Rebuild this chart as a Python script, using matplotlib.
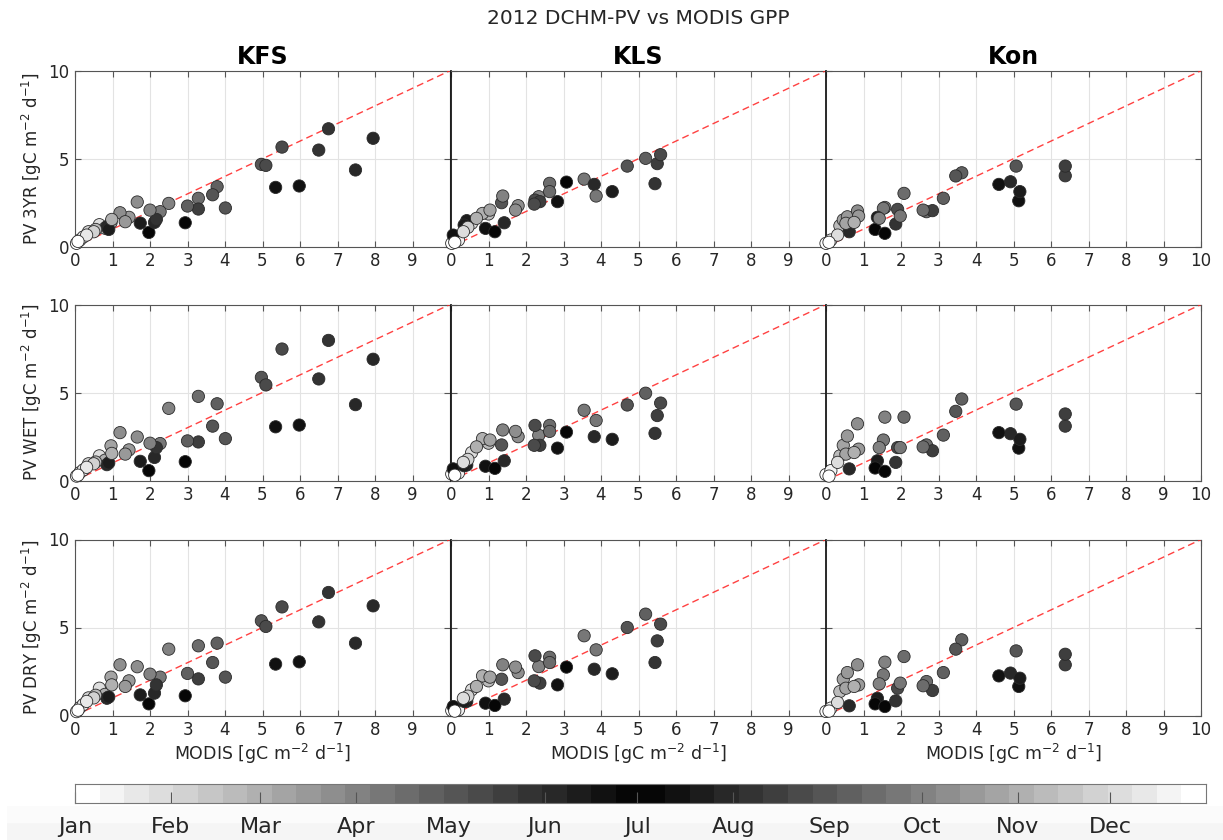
import numpy as np
import matplotlib
matplotlib.use('Agg')
import matplotlib.pyplot as plt
from matplotlib.colors import ListedColormap

# ---------------- data ----------------
sites = ['KFS', 'KLS', 'Kon']
row_names = ['PV 3YR', 'PV WET', 'PV DRY']
months = ['Jan', 'Feb', 'Mar', 'Apr', 'May', 'Jun', 'Jul', 'Aug', 'Sep', 'Oct', 'Nov', 'Dec']
month_start_doy = [0, 31, 60, 91, 121, 152, 182, 213, 244, 274, 305, 335]
n_periods = 46
year_days = 366

# KFS
kfs_period = [18, 19, 16, 27, 15, 29, 26, 24, 21, 14, 30, 13, 28, 31, 30, 22, 11, 12, 34, 26, 27,
              23, 20, 10, 35, 9, 36, 8, 38, 19, 3, 39, 4, 43, 1, 0, 7, 41, 2, 45, 25]
kfs_modis = [6.76, 7.95, 5.52, 6.50, 4.97, 5.09, 7.48, 5.35, 5.98, 3.79, 3.67, 3.29, 3.29, 3.00, 4.01,
             2.94, 2.50, 2.27, 2.00, 2.12, 2.17, 1.97, 1.74, 1.66, 1.20, 1.44, 1.34, 0.96, 0.98, 0.85,
             0.65, 0.55, 0.36, 0.31, 0.13, 0.04, 0.80, 0.50, 0.22, 0.08, 0.90]
kfs_3yr = [6.70, 6.16, 5.66, 5.49, 4.68, 4.62, 4.36, 3.37, 3.45, 3.41, 2.95, 2.75, 2.14, 2.31, 2.20,
           1.36, 2.46, 1.99, 2.08, 1.38, 1.55, 0.81, 1.34, 2.54, 1.93, 1.67, 1.42, 1.36, 1.55, 1.14,
           1.25, 0.98, 0.85, 0.66, 0.38, 0.19, 1.05, 0.85, 0.55, 0.30, 0.98]
kfs_wet = [7.96, 6.89, 7.47, 5.77, 5.86, 5.43, 4.31, 3.05, 3.15, 4.36, 3.09, 4.78, 2.19, 2.25, 2.38,
           1.07, 4.10, 2.10, 2.12, 1.31, 1.87, 0.56, 1.09, 2.47, 2.72, 1.74, 1.50, 1.97, 1.54, 0.90,
           1.40, 1.05, 0.95, 0.75, 0.45, 0.25, 1.15, 0.95, 0.60, 0.30, 1.00]
kfs_dry = [6.99, 6.23, 6.17, 5.32, 5.38, 5.06, 4.11, 2.92, 3.05, 4.11, 3.01, 3.96, 2.08, 2.39, 2.18,
           1.12, 3.77, 2.18, 2.35, 1.27, 1.74, 0.66, 1.17, 2.77, 2.88, 1.97, 1.65, 2.18, 1.74, 0.98,
           1.55, 1.15, 1.00, 0.80, 0.45, 0.22, 1.20, 1.00, 0.62, 0.30, 1.05]

# KLS
kls_period = [29, 14, 28, 15, 27, 12, 26, 33, 25, 22, 24, 13, 32, 11, 16, 29, 28, 10, 35, 34, 30,
              19, 23, 21, 6, 37, 7, 38, 3, 20, 42, 24, 1, 0, 25, 45, 41]
kls_modis = [5.59, 5.19, 5.50, 4.70, 5.44, 3.55, 3.82, 3.87, 4.30, 3.08, 2.84, 2.63, 2.63, 2.34, 2.24,
             2.22, 2.37, 1.79, 1.72, 1.38, 1.35, 1.42, 1.17, 0.92, 1.00, 1.04, 0.84, 0.68, 0.55, 0.42,
             0.33, 0.06, 0.20, 0.02, 0.35, 0.10, 0.45]
kls_3yr = [5.23, 5.02, 4.72, 4.58, 3.58, 3.84, 3.54, 2.88, 3.13, 3.67, 2.56, 3.60, 3.13, 2.84, 2.65,
           2.42, 2.56, 2.33, 2.08, 2.88, 2.50, 1.36, 0.85, 1.04, 1.86, 2.08, 1.89, 1.61, 1.33, 1.48,
           0.85, 0.66, 0.38, 0.19, 1.23, 0.25, 1.10]
kls_wet = [4.40, 4.96, 3.69, 4.29, 2.68, 3.99, 2.49, 3.41, 2.34, 2.75, 1.84, 3.13, 2.79, 2.57, 3.13,
           2.00, 2.00, 2.49, 2.79, 2.87, 2.02, 1.12, 0.69, 0.81, 2.12, 2.30, 2.38, 1.91, 1.59, 0.88,
           1.03, 0.66, 0.43, 0.37, 0.84, 0.30, 1.20]
kls_dry = [5.19, 5.76, 4.24, 5.00, 3.01, 4.53, 2.63, 3.73, 2.37, 2.75, 1.74, 3.31, 3.01, 2.78, 3.39,
           1.97, 1.84, 2.44, 2.75, 2.88, 2.06, 0.93, 0.57, 0.70, 1.97, 2.18, 2.25, 1.65, 1.46, 0.80,
           0.98, 0.51, 0.32, 0.28, 0.80, 0.25, 1.10]

# Kon
kon_period = [28, 17, 15, 21, 19, 25, 24, 14, 30, 31, 28, 32, 13, 13, 29, 33, 27, 11, 12, 34, 20,
              22, 23, 10, 36, 38, 9, 8, 6, 26, 42, 1, 0, 37, 45]
kon_modis = [6.38, 6.38, 5.07, 4.61, 4.92, 5.17, 5.14, 3.62, 3.46, 3.13, 2.84, 2.59, 2.68, 2.08, 1.91,
             1.98, 1.86, 1.57, 1.53, 1.42, 1.37, 1.31, 1.57, 0.84, 0.87, 0.75, 0.57, 0.46, 0.37, 0.62,
             0.31, 0.13, 0.00, 0.53, 0.08]
kon_3yr = [4.58, 4.03, 4.58, 3.54, 3.69, 3.13, 2.61, 4.20, 4.02, 2.75, 2.05, 2.08, 1.99, 3.03, 2.12,
           1.74, 1.29, 2.23, 2.18, 1.61, 1.67, 0.98, 0.76, 2.03, 1.74, 1.38, 1.70, 1.52, 1.19, 0.85,
           0.66, 0.38, 0.19, 1.33, 0.25]
kon_wet = [3.78, 3.09, 4.34, 2.72, 2.66, 2.34, 1.84, 4.63, 3.93, 2.58, 1.69, 1.91, 2.02, 3.60, 1.87,
           1.87, 1.03, 3.60, 2.30, 1.87, 1.12, 0.71, 0.52, 3.22, 1.78, 1.59, 2.53, 2.00, 1.40, 0.66,
           1.03, 0.56, 0.34, 1.50, 0.25]
kon_dry = [3.48, 2.88, 3.67, 2.25, 2.41, 2.12, 1.65, 4.30, 3.77, 2.44, 1.42, 1.69, 1.93, 3.35, 1.55,
           1.84, 0.83, 3.03, 2.31, 1.80, 0.98, 0.66, 0.51, 2.88, 1.74, 1.65, 2.44, 2.06, 1.36, 0.55,
           0.74, 0.42, 0.23, 1.55, 0.25]

site_data = {
    'KFS': (kfs_period, kfs_modis, [kfs_3yr, kfs_wet, kfs_dry]),
    'KLS': (kls_period, kls_modis, [kls_3yr, kls_wet, kls_dry]),
    'Kon': (kon_period, kon_modis, [kon_3yr, kon_wet, kon_dry]),
}

# ---------------- style ----------------
idx = np.arange(n_periods)
gray_levels = np.abs(idx - (n_periods - 1) / 2) / ((n_periods - 1) / 2)
cmap = ListedColormap([(g, g, g) for g in gray_levels])

W, H = 1223, 840
fig = plt.figure(figsize=(W / 100, H / 100), dpi=100)
fig.patch.set_facecolor('white')
txt_color = '#262626'

def fx(px):
    return px / W

def fy(py):
    return 1 - py / H

col_left = [75, 451, 826]
col_w = 375
row_top = [70.7, 304.5, 539.5]
row_h = 176

# light band behind month labels
band = fig.add_axes([fx(7), 0, 1 - fx(7), fy(806)], zorder=0)
grad = np.linspace(0, 1, 50).reshape(-1, 1)
band.imshow(grad, aspect='auto', cmap=ListedColormap([(0.988, 0.988, 0.988), (0.962, 0.962, 0.962)]),
            extent=[0, 1, 0, 1], interpolation='bilinear')
band.axis('off')

for c, site in enumerate(sites):
    period, modis, ys = site_data[site]
    period = np.array(period)
    modis = np.array(modis)
    order = np.argsort(period, kind='stable')
    for r in range(3):
        yv = np.array(ys[r])
        ax = fig.add_axes([fx(col_left[c]), fy(row_top[r] + row_h), col_w / W, row_h / H], zorder=2)
        ax.set_xlim(0, 10)
        ax.set_ylim(0, 10)
        ax.set_xticks(np.arange(0, 11, 1))
        ax.set_yticks([0, 5, 10])
        ax.grid(True, color='#e3e3e3', lw=0.8, zorder=0)
        ax.set_axisbelow(True)
        ax.plot([0, 10], [0, 10], '--', color='#ff2020', lw=1.0, alpha=0.85,
                dashes=(5, 3), zorder=3)
        ax.scatter(modis[order], yv[order], c=period[order], cmap=cmap, vmin=-0.5,
                   vmax=n_periods - 0.5, s=78, edgecolors='#2a2a2a', linewidths=0.6,
                   zorder=4, clip_on=False)
        ax.tick_params(direction='in', top=True, right=True, length=4, width=0.8,
                       colors='#555555', labelcolor=txt_color, labelsize=12, pad=4)
        for sp in ax.spines.values():
            sp.set_color('#555555')
            sp.set_linewidth(0.8)
        if c > 0:
            ax.spines['left'].set_color('#1a1a1a')
            ax.spines['left'].set_linewidth(1.3)
            ax.set_yticklabels([])
        else:
            ax.set_ylabel(row_names[r] + ' [gC m$^{-2}$ d$^{-1}$]', fontsize=12,
                          color=txt_color, labelpad=3)
        if c < 2:
            ax.set_xticklabels([str(v) for v in range(10)] + [''])
        if r == 0:
            ax.set_title(site, fontsize=17, fontweight='bold', color='black', pad=5)
        if r == 2:
            ax.set_xlabel('MODIS [gC m$^{-2}$ d$^{-1}$]', fontsize=12.5, color=txt_color,
                          labelpad=2)

fig.text(fx(638), fy(18), '2012 DCHM-PV vs MODIS GPP', ha='center', va='center',
         fontsize=14.5, color=txt_color)

# colorbar
cax = fig.add_axes([fx(75), fy(803), (1206 - 75) / W, 19 / H], zorder=2)
edges = np.linspace(0, year_days, n_periods + 1)
cax.pcolormesh(edges, [0, 1], idx.reshape(1, -1), cmap=cmap, vmin=-0.5,
               vmax=n_periods - 0.5, shading='flat')
cax.set_xlim(0, year_days)
cax.set_ylim(0, 1)
cax.set_yticks([])
cax.set_xticks(month_start_doy)
cax.set_xticklabels(months, fontsize=16, color=txt_color)
cax.tick_params(axis='x', direction='in', length=8, width=0.8, colors='#555555',
                labelcolor=txt_color, pad=10)
for sp in cax.spines.values():
    sp.set_color('#777777')
    sp.set_linewidth(0.8)

fig.savefig('out.png', dpi=100, facecolor='white')
